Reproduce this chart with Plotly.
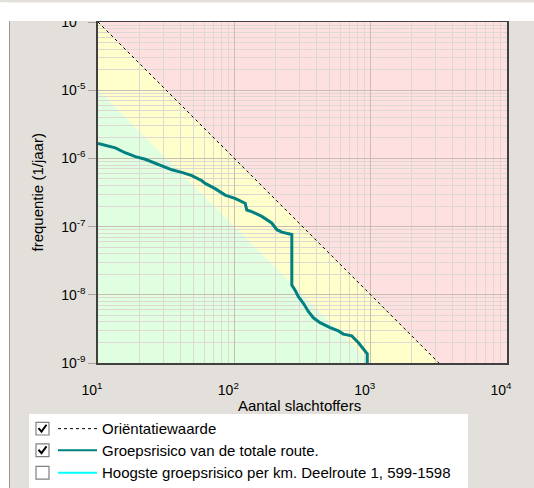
import math
import plotly.graph_objects as go

# ---------------- data ----------------
# F-N curve (group risk of total route)
N_curve = [10, 11.3, 13.4, 15.8, 18.8, 22.2, 25.5, 29.4, 34.8, 41.2, 48.8, 57.8, 61.1,
           72.3, 85.6, 101, 120, 123.5, 134, 159, 188, 205, 223, 264, 264, 279, 295,
           321, 349, 380, 425, 504, 580, 630, 726, 811, 883, 944, 944]
F_curve = [1.65e-6, 1.54e-6, 1.43e-6, 1.21e-6, 1.06e-6, 9.7e-7, 8.7e-7, 7.6e-7, 6.8e-7,
           6.25e-7, 5.6e-7, 4.7e-7, 4.3e-7, 3.6e-7, 2.9e-7, 2.6e-7, 2.2e-7, 1.75e-7,
           1.66e-7, 1.41e-7, 1.13e-7, 9.0e-8, 8.3e-8, 7.65e-8, 1.39e-8, 1.17e-8, 9.4e-9,
           7.5e-9, 5.7e-9, 4.6e-9, 3.9e-9, 3.3e-9, 2.95e-9, 2.65e-9, 2.5e-9, 2.0e-9,
           1.6e-9, 1.36e-9, 1e-9]

# orientation value line (0.01 / N^2)
N_orient = [10, 3162.28]
F_orient = [1e-4, 1e-9]
# lower zone boundary (0.001 / N^2)
N_lower = [10, 1000]
F_lower = [1e-5, 1e-9]

x_tickvals = [10, 100, 1000, 10000]
x_ticktext = ["10<sup>1</sup>", "10<sup>2</sup>", "10<sup>3</sup>", "10<sup>4</sup>"]
y_tickvals = [1e-9, 1e-8, 1e-7, 1e-6, 1e-5, 1e-4]
y_ticktext = ["10<sup>-9</sup>", "10<sup>-8</sup>", "10<sup>-7</sup>", "10<sup>-6</sup>",
              "10<sup>-5</sup>", "10<sup>-4</sup>"]
x_minor = [m * d for d in (10, 100, 1000) for m in range(2, 10)]
y_minor = [m * d for d in (1e-9, 1e-8, 1e-7, 1e-6, 1e-5) for m in range(2, 10)]

x_title = "Aantal slachtoffers"
y_title = "frequentie (1/jaar)"
legend_labels = ["Oriëntatiewaarde", "Groepsrisico van de totale route.",
                 "Hoogste groepsrisico per km. Deelroute 1, 599-1598"]
legend_checked = [True, True, False]

# ---------------- layout geometry ----------------
W_FIG, H_FIG = 534, 488
ML, MR, MT, MB = 98, 27, 15, 125
PW = W_FIG - ML - MR
PH = H_FIG - MT - MB
BOTTOM = H_FIG - MB
FONT = "Liberation Sans, Arial, sans-serif"


def px(x):
    return (x - ML) / PW


def py(y):
    return (BOTTOM - y) / PH


X_MIN, X_MAX = N_orient[0], 10000
Y_MIN, Y_MAX = 1e-9, 1e-4

fig = go.Figure()

# zone backgrounds (below grid)
red_path = "M {} {} L {} {} L {} {} L {} {} Z".format(
    N_orient[0], F_orient[0], N_orient[1], F_orient[1], X_MAX, Y_MIN, X_MAX, Y_MAX)
yellow_path = "M {} {} L {} {} L {} {} L {} {} Z".format(
    N_orient[0], F_orient[0], N_orient[1], F_orient[1], N_lower[1], F_lower[1],
    N_lower[0], F_lower[0])
green_path = "M {} {} L {} {} L {} {} Z".format(
    N_lower[0], F_lower[0], N_lower[1], F_lower[1], X_MIN, Y_MIN)

shapes = []
for pth, col in ((red_path, "#FFE0E0"), (yellow_path, "#FFFFCC"), (green_path, "#E0FFE0")):
    shapes.append(dict(type="path", path=pth, xref="x", yref="y", fillcolor=col,
                       line=dict(width=0), layer="below"))

fig.add_trace(go.Scatter(x=N_orient, y=F_orient, mode="lines",
                         line=dict(color="#000000", width=1, dash="3px,3px"),
                         showlegend=False, hoverinfo="skip"))
fig.add_trace(go.Scatter(x=N_curve, y=F_curve, mode="lines",
                         line=dict(color="#008080", width=3),
                         showlegend=False, hoverinfo="skip"))

# window chrome: white strips top and left, border line
shapes.append(dict(type="rect", xref="paper", yref="paper", x0=px(-5), x1=px(W_FIG + 5),
                   y0=py(14), y1=py(-5), fillcolor="white", line=dict(width=0), layer="above"))
shapes.append(dict(type="rect", xref="paper", yref="paper", x0=px(-5), x1=px(9),
                   y0=py(H_FIG + 5), y1=py(-5), fillcolor="white", line=dict(width=0), layer="above"))
shapes.append(dict(type="line", xref="paper", yref="paper", x0=px(9.5), x1=px(9.5),
                   y0=py(14), y1=py(H_FIG + 5), line=dict(color="#9A9894", width=1), layer="above"))

# legend box
shapes.append(dict(type="rect", xref="paper", yref="paper", x0=px(29), x1=px(468),
                   y0=py(H_FIG + 5), y1=py(415), fillcolor="white", line=dict(width=0), layer="above"))

rows_y = [430, 452, 475]
line_styles = [dict(color="#000000", width=1, dash="3px,3px"),
               dict(color="#008080", width=2),
               dict(color="#00FFFF", width=2)]
annotations = []
for i, yc in enumerate(rows_y):
    shapes.append(dict(type="rect", xref="paper", yref="paper", x0=px(36), x1=px(49),
                       y0=py(yc + 6.5), y1=py(yc - 6.5), fillcolor="white",
                       line=dict(color="#808080", width=1.2), layer="above"))
    if legend_checked[i]:
        shapes.append(dict(type="path", xref="paper", yref="paper",
                           path="M {} {} L {} {} L {} {}".format(px(38.5), py(yc - 0.5), px(41.5), py(yc + 3),
                                                                  px(46.5), py(yc - 4)),
                           line=dict(color="#000000", width=2), layer="above"))
    shapes.append(dict(type="line", xref="paper", yref="paper", x0=px(58), x1=px(97),
                       y0=py(yc), y1=py(yc), line=line_styles[i], layer="above"))
    annotations.append(dict(text=legend_labels[i], xref="paper", yref="paper", x=px(100), y=py(yc),
                            xanchor="left", yanchor="middle", showarrow=False,
                            font=dict(size=15, color="#000000", family=FONT)))

annotations.append(dict(text=x_title, xref="paper", yref="paper", x=px(299), y=py(406),
                        xanchor="center", yanchor="middle", showarrow=False,
                        font=dict(size=15, color="#000000", family=FONT)))
annotations.append(dict(text=y_title, xref="paper", yref="paper", x=px(37), y=py(189),
                        xanchor="center", yanchor="middle", showarrow=False, textangle=-90,
                        font=dict(size=15, color="#000000", family=FONT)))

fig.update_layout(
    width=W_FIG, height=H_FIG,
    margin=dict(l=ML, r=MR, t=MT, b=MB, pad=0),
    paper_bgcolor="#E3E0DB",
    plot_bgcolor="#FFFFFF",
    showlegend=False,
    shapes=shapes,
    annotations=annotations,
    font=dict(family=FONT, size=14, color="#000000"),
)
fig.update_xaxes(type="log", range=[math.log10(X_MIN), math.log10(X_MAX)],
                 tickmode="array", tickvals=x_tickvals, ticktext=x_ticktext,
                 showgrid=True, gridcolor="#C9BDB5", gridwidth=1,
                 minor=dict(tickmode="array", tickvals=x_minor, showgrid=True,
                            gridcolor="#DDD8D2", gridwidth=1, ticks=""),
                 showline=True, linecolor="#404040", linewidth=1.5, mirror=True,
                 ticks="", ticklabelstandoff=13, ticklabelshift=-6,
                 tickfont=dict(size=14, color="#000000"), zeroline=False)
fig.update_yaxes(type="log", range=[math.log10(Y_MIN), math.log10(Y_MAX)],
                 tickmode="array", tickvals=y_tickvals, ticktext=y_ticktext,
                 showgrid=True, gridcolor="#C9BDB5", gridwidth=1,
                 minor=dict(tickmode="array", tickvals=y_minor, showgrid=True,
                            gridcolor="#DDD8D2", gridwidth=1, ticks=""),
                 showline=True, linecolor="#404040", linewidth=1.5, mirror=True,
                 ticks="outside", ticklen=8, tickcolor="#A8A4A0",
                 tickfont=dict(size=14, color="#000000"), zeroline=False)

fig.write_html("out.html", config={"displayModeBar": False},
               post_script="document.body.style.margin='0px';document.body.style.padding='0px';")
